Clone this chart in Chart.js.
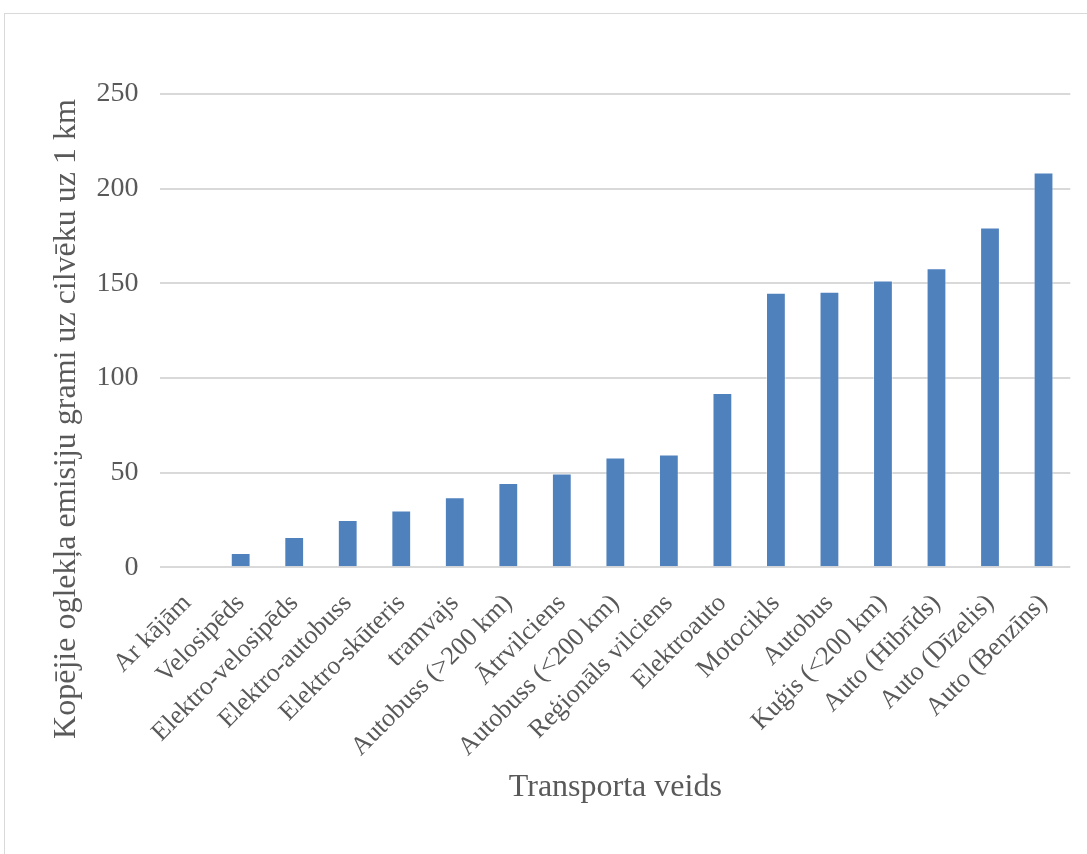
<!DOCTYPE html>
<html>
<head>
<meta charset="utf-8">
<script src="https://cdn.jsdelivr.net/npm/chart.js@4"></script>
<style>
  html, body { margin: 0; padding: 0; background: #fff; }
  #frame { position: absolute; left: 4px; top: 13px; width: 1100px; height: 860px; border: 1px solid #d9d9d9; box-sizing: border-box; }
  #wrap { position: absolute; left: 0; top: 0; width: 1087px; height: 854px; }
</style>
</head>
<body>
<div id="frame"></div>
<div id="wrap"><canvas id="grafiks"></canvas></div>
<script>
// kategorijas un vērtības (g CO2 uz cilvēku uz 1 km)
const labels = ['Ar kājām', 'Velosipēds', 'Elektro-velosipēds', 'Elektro-autobuss', 'Elektro-skūteris',
  'tramvajs', 'Autobuss (>200 km)', 'Ātrvilciens', 'Autobuss (<200 km)', 'Reģionāls vilciens',
  'Elektroauto', 'Motocikls', 'Autobus', 'Kuģis (<200 km)', 'Auto (Hibrīds)', 'Auto (Dīzelis)', 'Auto (Benzīns)']
const emisijas = [0, 7.5, 16, 25, 30, 37, 44.5, 49.5, 58, 59.5, 92, 145, 145.5, 151.5, 158, 179.5, 208.5]
const yTicks = [0, 50, 100, 150, 200, 250]
const yTitle = 'Kopējie oglekļa emisiju grami uz cilvēku uz 1 km'

Chart.defaults.font.family = '"Liberation Serif", "Times New Roman", serif'
Chart.defaults.font.size = 28
Chart.defaults.color = '#595959'

// y ass nosaukums centrēts kā Excel (zemāk par zīmēšanas laukumu)
const yTitlePlugin = {
  id: 'yTitle',
  afterDraw(chart) {
    const c = chart.ctx
    const y = chart.scales.y
    c.save()
    c.translate(y.left + 4 + 19, 419)
    c.rotate(-Math.PI / 2)
    c.font = '32px "Liberation Serif", serif'
    c.fillStyle = '#595959'
    c.textAlign = 'center'
    c.textBaseline = 'middle'
    c.fillText(yTitle, 0, 0)
    c.restore()
  }
}

const ctx = document.getElementById('grafiks')

new Chart(ctx, {
  type: 'bar',
  data: {
    labels,
    datasets: [{
      data: emisijas,
      backgroundColor: '#4f81bd',
      borderColor: 'rgba(255,255,255,0.4)',
      borderWidth: 1,
      categoryPercentage: 1,
      barPercentage: 0.37
    }]
  },
  options: {
    responsive: true,
    maintainAspectRatio: false,
    animation: false,
    layout: { padding: { top: 94, right: 14, bottom: 43, left: 44 } },
    plugins: { legend: { display: false }, tooltip: { enabled: false } },
    scales: {
      x: {
        grid: { display: false, drawTicks: false },
        border: { display: false },
        ticks: { minRotation: 45, maxRotation: 45, padding: 21, autoSkip: false, font: { size: 26 } },
        title: { display: true, text: 'Transporta veids', font: { size: 32 }, padding: { top: -15 } }
      },
      y: {
        min: 0,
        max: 250,
        afterBuildTicks: axis => { axis.ticks = yTicks.map(v => ({ value: v })) },
        grid: { color: '#d9d9d9', lineWidth: 2, drawTicks: false },
        border: { display: false },
        ticks: { padding: 22 },
        // vieta nosaukumam; pats teksts zīmēts ar spraudni
        title: { display: true, text: yTitle, color: 'rgba(0,0,0,0)', font: { size: 32 }, padding: { top: 4, bottom: -12 } }
      }
    }
  },
  plugins: [yTitlePlugin]
})
</script>
</body>
</html>
